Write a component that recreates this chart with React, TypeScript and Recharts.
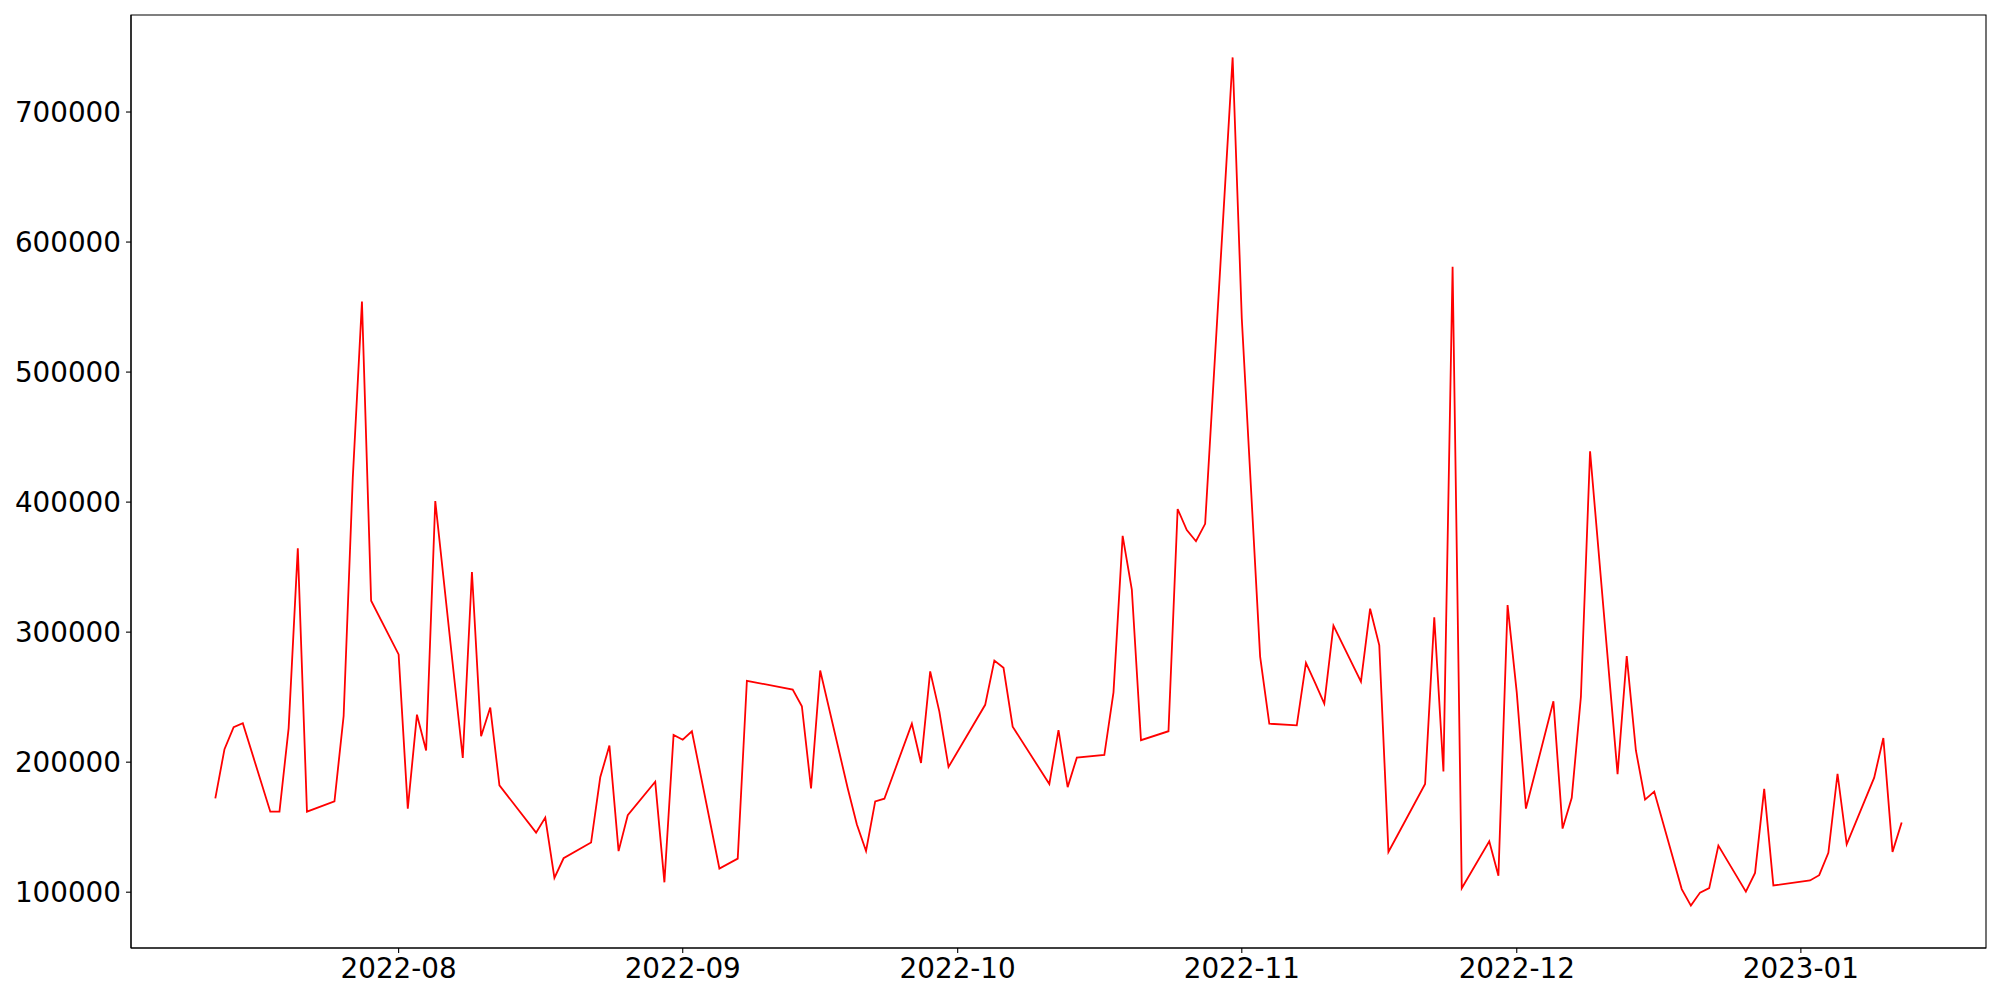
import React from "react";
import { LineChart, Line, XAxis, YAxis, ReferenceArea } from "recharts";

const dates: string[] = [
  "2022-07-12","2022-07-13","2022-07-14","2022-07-15","2022-07-18","2022-07-19","2022-07-20","2022-07-21","2022-07-22",
  "2022-07-25","2022-07-26","2022-07-27","2022-07-28","2022-07-29",
  "2022-08-01","2022-08-02","2022-08-03","2022-08-04","2022-08-05","2022-08-08","2022-08-09","2022-08-10","2022-08-11","2022-08-12",
  "2022-08-16","2022-08-17","2022-08-18","2022-08-19","2022-08-22","2022-08-23","2022-08-24","2022-08-25","2022-08-26",
  "2022-08-29","2022-08-30","2022-08-31","2022-09-01","2022-09-02","2022-09-05","2022-09-07","2022-09-08",
  "2022-09-13","2022-09-14","2022-09-15","2022-09-16","2022-09-19","2022-09-20","2022-09-21","2022-09-22","2022-09-23",
  "2022-09-26","2022-09-27","2022-09-28","2022-09-29","2022-09-30","2022-10-04","2022-10-05","2022-10-06","2022-10-07",
  "2022-10-11","2022-10-12","2022-10-13","2022-10-14","2022-10-17","2022-10-18","2022-10-19","2022-10-20","2022-10-21",
  "2022-10-24","2022-10-25","2022-10-26","2022-10-27","2022-10-28","2022-10-31","2022-11-01","2022-11-02","2022-11-03","2022-11-04",
  "2022-11-07","2022-11-08","2022-11-09","2022-11-10","2022-11-11","2022-11-14","2022-11-15","2022-11-16","2022-11-17","2022-11-18",
  "2022-11-21","2022-11-22","2022-11-23","2022-11-24","2022-11-25","2022-11-28","2022-11-29","2022-11-30","2022-12-01","2022-12-02",
  "2022-12-05","2022-12-06","2022-12-07","2022-12-08","2022-12-09","2022-12-12","2022-12-13","2022-12-14","2022-12-15","2022-12-16",
  "2022-12-19","2022-12-20","2022-12-21","2022-12-22","2022-12-23","2022-12-26","2022-12-27","2022-12-28","2022-12-29",
  "2023-01-02","2023-01-03","2023-01-04","2023-01-05","2023-01-06","2023-01-09","2023-01-10","2023-01-11","2023-01-12",
];

const values: number[] = [
  172200,210000,226900,230000,161900,161900,226200,364400,161900,
  169800,235500,418700,554200,324200,
  282900,164300,236500,209000,400800,203200,346200,220000,242000,182200,
  145800,157400,111000,126100,138200,188400,212800,131600,159200,
  184900,107600,221000,217300,223800,118200,125800,262600,
  255800,243000,179800,270500,180000,152000,131700,169800,171900,
  229600,199400,269800,238900,196300,244100,278100,272600,227300,
  183200,224600,180800,203500,205500,253700,374000,332800,216900,
  223800,394700,378500,369900,383300,742000,541000,411000,281200,229600,
  228300,276400,261000,245100,305000,261900,318000,289800,131000,144000,
  183200,311400,192800,581000,103100,139200,112700,320800,253700,164300,
  246800,148900,172600,250300,439100,190800,281600,209000,171200,177400,
  102400,89700,99700,103100,135800,100400,114800,179400,105200,
  109000,113100,130300,191100,136800,188100,218600,131000,153600,
];

const xTickLabels: string[] = ["2022-08", "2022-09", "2022-10", "2022-11", "2022-12", "2023-01"];
const yTicks: number[] = [100000, 200000, 300000, 400000, 500000, 600000, 700000];

const toTs = (s: string) => {
  const [y, m, d] = s.split("-").map(Number);
  return Date.UTC(y, m - 1, d || 1);
};

const data = dates.map((d, i) => ({ t: toTs(d), v: values[i] }));
const xTicks = xTickLabels.map((l) => toTs(l + "-01"));

const tMin = data[0].t;
const tMax = data[data.length - 1].t;
const tPad = (tMax - tMin) * 0.05;
const vMin = Math.min(...values);
const vMax = Math.max(...values);
const vPad = (vMax - vMin) * 0.05;
const xDomain = [tMin - tPad, tMax + tPad];
const yDomain = [vMin - vPad, vMax + vPad];

const fmt = (t: number) => {
  const d = new Date(t);
  const m = d.getUTCMonth() + 1;
  return `${d.getUTCFullYear()}-${m < 10 ? "0" + m : m}`;
};

const tickStyle = { fill: "#000", fontSize: 27.8, fontFamily: "DejaVu Sans" };
const axisLine = { stroke: "#000", strokeWidth: 1.1 };
const tickLine = { stroke: "#000", strokeWidth: 1.1 };

export default function App() {
  return (
    <div style={{ position: "absolute", left: 0, top: 0, width: 2000, height: 1000, background: "#fff" }}>
      <LineChart
        width={2000}
        height={1000}
        data={data}
        margin={{ top: 15, right: 14, left: 0, bottom: 0 }}
      >
        <XAxis
          dataKey="t"
          type="number"
          domain={xDomain}
          allowDataOverflow
          ticks={xTicks}
          tickFormatter={fmt}
          tick={tickStyle}
          axisLine={axisLine}
          tickLine={tickLine}
          tickSize={5}
          tickMargin={5}
          height={52}
          interval={0}
        />
        <YAxis
          type="number"
          domain={yDomain}
          allowDataOverflow
          ticks={yTicks}
          tick={tickStyle}
          axisLine={axisLine}
          tickLine={tickLine}
          tickSize={5}
          tickMargin={5}
          width={131}
          interval={0}
        />
        <ReferenceArea
          x1={xDomain[0]}
          x2={xDomain[1]}
          y1={yDomain[0]}
          y2={yDomain[1]}
          fill="none"
          fillOpacity={0}
          stroke="#000"
          strokeWidth={1.1}
          ifOverflow="extendDomain"
        />
        <Line
          type="linear"
          dataKey="v"
          stroke="#ff0000"
          strokeWidth={1.8}
          dot={false}
          activeDot={false}
          isAnimationActive={false}
        />
      </LineChart>
    </div>
  );
}
